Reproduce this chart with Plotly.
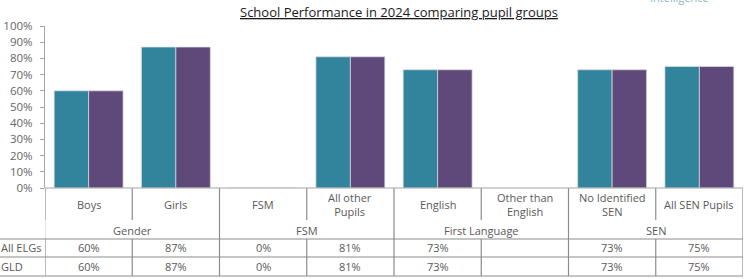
import plotly.graph_objects as go

# ---- data ----
categories = ["Boys", "Girls", "FSM", "All other Pupils", "English",
              "Other than English", "No Identified SEN", "All SEN Pupils"]
category_labels = ["Boys", "Girls", "FSM", "All other<br>Pupils", "English",
                   "Other than<br>English", "No Identified<br>SEN", "All SEN Pupils"]
groups = ["Gender", "FSM", "First Language", "SEN"]
group_sizes = [2, 2, 2, 2]
series_names = ["All ELGs", "GLD"]
all_elgs = [60, 87, 0, 81, 73, None, 73, 75]
gld = [60, 87, 0, 81, 73, None, 73, 75]
y_ticks = [0, 10, 20, 30, 40, 50, 60, 70, 80, 90, 100]
y_tick_labels = [f"{t}%" for t in y_ticks]
title_text = "School Performance in 2024 comparing pupil groups"

# ---- layout constants (pixels) ----
W, H = 751, 279
ML, MR, MT, MB = 45, 8, 26, 91
PW = W - ML - MR
PH = H - MT - MB
AXIS_Y = H - MB  # 188


def py(pix):
    """pixel y -> paper y"""
    return (AXIS_Y - pix) / PH


def px(pix):
    return (pix - ML) / PW


FONT = "Open Sans"
TXT = "#595959"
LINE = "#8c8c8c"

teal = "#31849B"
purple = "#5F497A"

fig = go.Figure()
for name, vals, col in [(series_names[0], all_elgs, teal), (series_names[1], gld, purple)]:
    fig.add_trace(go.Bar(
        x=list(range(len(categories))), y=vals, name=name,
        marker=dict(color=col, line=dict(color="rgba(220,220,230,0.9)", width=0.8)),
        hovertext=categories, showlegend=False,
    ))

shapes = []
annotations = []
row_top = AXIS_Y
row_cat_bot = 220
row_grp_bot = 239
row1_bot = 257
row2_bot = 276
n = len(categories)

# right border down full table
shapes.append(dict(type="line", xref="x", yref="paper", x0=n - 0.5, x1=n - 0.5,
                   y0=py(row_top), y1=py(row2_bot), line=dict(color=LINE, width=1.2)))
# left border of category area
shapes.append(dict(type="line", xref="x", yref="paper", x0=-0.5, x1=-0.5,
                   y0=py(row_top), y1=py(row_cat_bot), line=dict(color=LINE, width=1.2)))
shapes.append(dict(type="line", xref="x", yref="paper", x0=-0.5, x1=-0.5,
                   y0=py(row_cat_bot), y1=py(row_grp_bot), line=dict(color="#d0d0d0", width=1.2)))
shapes.append(dict(type="line", xref="x", yref="paper", x0=-0.5, x1=-0.5,
                   y0=py(row_grp_bot), y1=py(row2_bot), line=dict(color=LINE, width=1.2)))
# category separators in category row and value rows
for i in range(1, n):
    shapes.append(dict(type="line", xref="x", yref="paper", x0=i - 0.5, x1=i - 0.5,
                       y0=py(row_top), y1=py(row_cat_bot), line=dict(color=LINE, width=1.2)))
    shapes.append(dict(type="line", xref="x", yref="paper", x0=i - 0.5, x1=i - 0.5,
                       y0=py(row_grp_bot), y1=py(row2_bot), line=dict(color=LINE, width=1.2)))
# group separators in group row
start = 0
group_centers = []
for g, s in zip(groups, group_sizes):
    group_centers.append(start + (s - 1) / 2)
    start += s
    if start < n:
        shapes.append(dict(type="line", xref="x", yref="paper", x0=start - 0.5, x1=start - 0.5,
                           y0=py(row_cat_bot), y1=py(row_grp_bot), line=dict(color=LINE, width=1.2)))
# horizontal lines across full width (incl. label column)
for yy in [row_grp_bot, row1_bot, row2_bot]:
    shapes.append(dict(type="line", xref="paper", yref="paper", x0=px(0), x1=1,
                       y0=py(yy), y1=py(yy), line=dict(color=LINE, width=1.2)))
# x axis line / top of table
shapes.append(dict(type="line", xref="paper", yref="paper", x0=0, x1=1,
                   y0=0, y1=0, line=dict(color="#a6a6a6", width=1.2)))

# category labels
for i, lab in enumerate(category_labels):
    annotations.append(dict(x=i, y=py((row_top + row_cat_bot) / 2), xref="x", yref="paper",
                            text=lab, showarrow=False, font=dict(family=FONT, size=11, color=TXT),
                            xanchor="center", yanchor="middle"))
# group labels
for g, c in zip(groups, group_centers):
    annotations.append(dict(x=c, y=py((row_cat_bot + row_grp_bot) / 2 + 0.5), xref="x", yref="paper",
                            text=g, showarrow=False, font=dict(family=FONT, size=11, color=TXT),
                            xanchor="center", yanchor="middle"))
# value rows
for name, vals, (t, b) in [(series_names[0], all_elgs, (row_grp_bot, row1_bot)),
                           (series_names[1], gld, (row1_bot, row2_bot))]:
    yc = py((t + b) / 2)
    annotations.append(dict(x=px(-1), y=yc, xref="paper", yref="paper", text=name,
                            showarrow=False, font=dict(family=FONT, size=11, color=TXT),
                            xanchor="left", yanchor="middle"))
    for i, v in enumerate(vals):
        if v is None:
            continue
        annotations.append(dict(x=i, y=yc, xref="x", yref="paper", text=f"{v}%",
                                showarrow=False, font=dict(family=FONT, size=11, color=TXT),
                                xanchor="center", yanchor="middle"))

# title
annotations.append(dict(x=px(399), y=py(12), xref="paper", yref="paper",
                        text=f"<u>{title_text}</u>", showarrow=False,
                        font=dict(family=FONT, size=13, color="#1a1a1a"),
                        xanchor="center", yanchor="middle"))
# cut-off logo text (partly above the top edge, as in the original)
annotations.append(dict(x=px(679), y=py(-2), xref="paper", yref="paper",
                        text="Intelligence", showarrow=False,
                        font=dict(family=FONT, size=11, color="#7fb6c9"),
                        xanchor="center", yanchor="middle"))

fig.update_layout(
    width=W, height=H,
    margin=dict(l=ML, r=MR, t=MT, b=MB, pad=0, autoexpand=False),
    paper_bgcolor="white", plot_bgcolor="white",
    barmode="group", bargap=0.21, bargroupgap=0,
    shapes=shapes, annotations=annotations,
    xaxis=dict(range=[-0.5, n - 0.5], showticklabels=False, ticks="", showgrid=False,
               zeroline=False, showline=False, fixedrange=True, automargin=False),
    yaxis=dict(range=[0, 100], tickvals=y_ticks, ticktext=y_tick_labels, ticks="outside",
               ticklen=4, tickcolor="#a6a6a6", showgrid=False, zeroline=False,
               showline=True, linecolor="#a6a6a6", linewidth=1.2,
               tickfont=dict(family=FONT, size=11.5, color="#666666"), ticklabelstandoff=5,
               fixedrange=True, automargin=False),
    font=dict(family=FONT),
)

fig.write_html("out.html", config={"displayModeBar": False},
               post_script="document.body.style.margin='0';document.body.style.padding='0';")
